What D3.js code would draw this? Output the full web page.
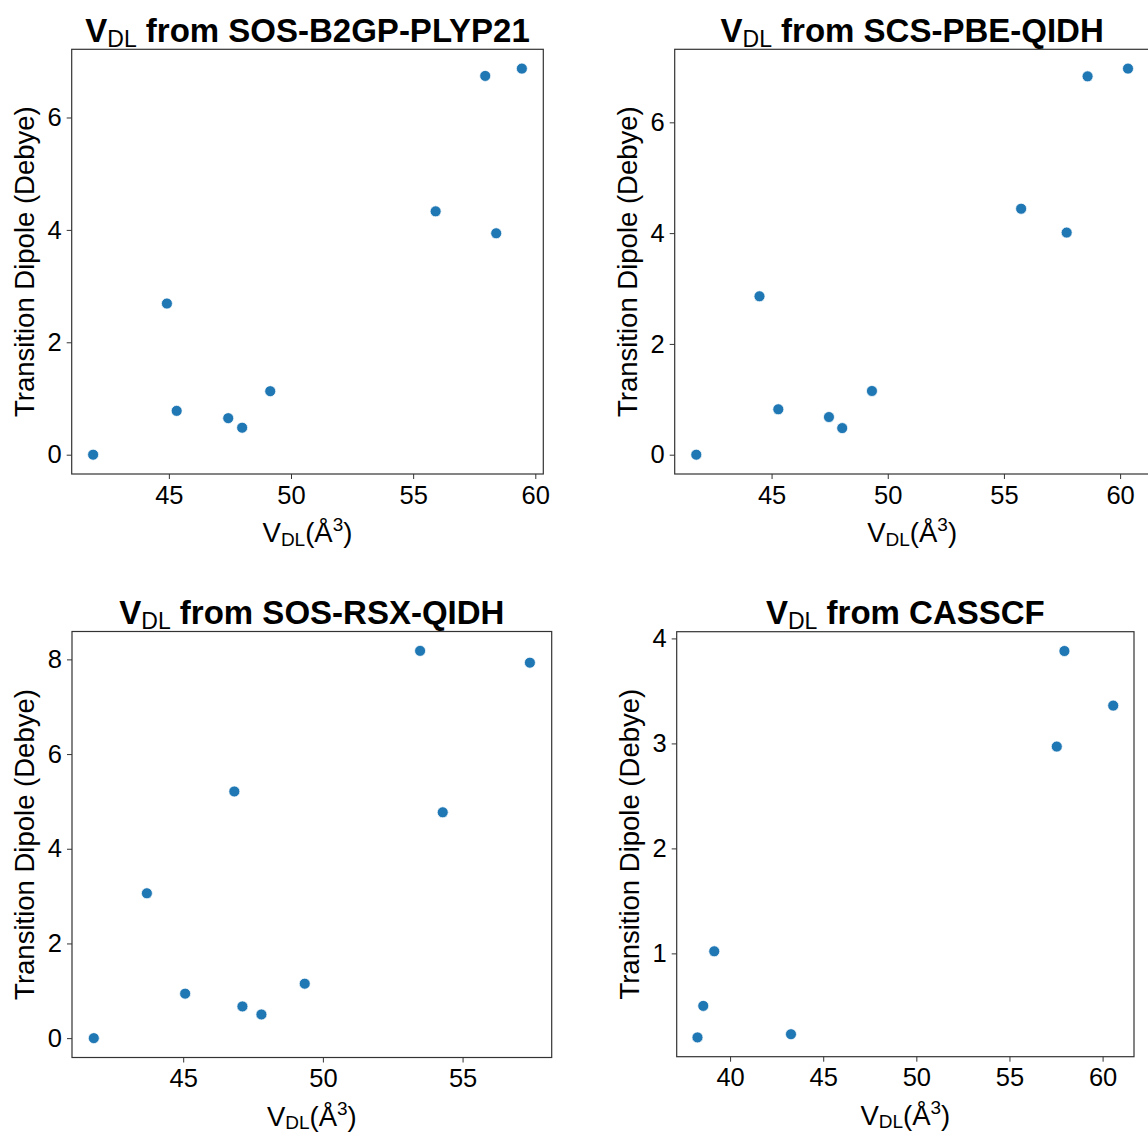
<!DOCTYPE html>
<html>
<head>
<meta charset="utf-8">
<script src="https://cdn.jsdelivr.net/npm/d3@7"></script>
<style>
  body { margin: 0; background: #fff; }
  svg { display: block; font-family: "Liberation Sans", Arial, sans-serif; }
</style>
</head>
<body>
<div id="chart"></div>
<script>
// method used for each panel
var methods = ["SOS-B2GP-PLYP21", "SCS-PBE-QIDH", "SOS-RSX-QIDH", "CASSCF"];

// V_DL (Å^3) vs transition dipole (Debye)
var b2gpVdl    = [41.9, 44.92, 45.32, 47.43, 48.0, 49.15, 55.92, 57.95, 58.4, 59.45];
var b2gpDipole = [0.0, 2.69, 0.78, 0.65, 0.48, 1.13, 4.33, 6.74, 3.94, 6.87];

var pbeVdl    = [41.76, 44.48, 45.29, 47.47, 48.04, 49.32, 55.74, 57.7, 58.6, 60.34];
var pbeDipole = [0.0, 2.86, 0.82, 0.68, 0.48, 1.15, 4.44, 4.01, 6.83, 6.97];

var rsxVdl    = [41.8, 43.7, 45.07, 46.83, 47.12, 47.8, 49.35, 53.48, 54.29, 57.41];
var rsxDipole = [0.0, 3.06, 0.94, 5.21, 0.67, 0.5, 1.15, 8.18, 4.77, 7.93];

var casVdl    = [38.25, 38.56, 39.15, 43.27, 57.54, 57.95, 60.57];
var casDipole = [0.2, 0.5, 1.02, 0.23, 2.97, 3.88, 3.36];

// tick labels
var b2gpXTicks = [45, 50, 55, 60];
var b2gpYTicks = [0, 2, 4, 6];
var pbeXTicks  = [45, 50, 55, 60];
var pbeYTicks  = [0, 2, 4, 6];
var rsxXTicks  = [45, 50, 55];
var rsxYTicks  = [0, 2, 4, 6, 8];
var casXTicks  = [40, 45, 50, 55, 60];
var casYTicks  = [1, 2, 3, 4];

var width = 1148, height = 1133;
var dotColor = "#1f77b4";
var spineColor = "#333";

// frame of each axes in page pixels
var boxes = [
  { left: 71.7, top: 49.3, right: 543.3, bottom: 474 },
  { left: 674.7, top: 49.3, right: 1149.6, bottom: 474 },
  { left: 72, top: 631.5, right: 551.7, bottom: 1057.5 },
  { left: 676.7, top: 631.7, right: 1134, bottom: 1056.7 }
];

var panels = [
  { name: methods[0], x: b2gpVdl, y: b2gpDipole, xt: b2gpXTicks, yt: b2gpYTicks },
  { name: methods[1], x: pbeVdl, y: pbeDipole, xt: pbeXTicks, yt: pbeYTicks },
  { name: methods[2], x: rsxVdl, y: rsxDipole, xt: rsxXTicks, yt: rsxYTicks },
  { name: methods[3], x: casVdl, y: casDipole, xt: casXTicks, yt: casYTicks }
];

const svg = d3.select("#chart")
  .append("svg")
  .attr("width", width)
  .attr("height", height);

svg.append("rect")
  .attr("width", width)
  .attr("height", height)
  .attr("fill", "#fff");

// matplotlib style autoscale: data extent with 5% margins
function padded(vals) {
  var ext = d3.extent(vals);
  var m = (ext[1] - ext[0]) * 0.05;
  return [ext[0] - m, ext[1] + m];
}

panels.forEach(function (p, i) {
  var b = boxes[i];
  var cx = (b.left + b.right) / 2,
      cy = (b.top + b.bottom) / 2;

  var xScale = d3.scaleLinear().domain(padded(p.x)).range([b.left, b.right]);
  var yScale = d3.scaleLinear().domain(padded(p.y)).range([b.bottom, b.top]);

  var g = svg.append("g").attr("class", "panel");

  // axes
  var xAxis = d3.axisBottom(xScale)
    .tickValues(p.xt)
    .tickSize(5)
    .tickPadding(6.5)
    .tickFormat(d3.format("d"));

  var yAxis = d3.axisLeft(yScale)
    .tickValues(p.yt)
    .tickSize(5)
    .tickPadding(5)
    .tickFormat(d3.format("d"));

  var gx = g.append("g")
    .attr("transform", "translate(0," + b.bottom + ")")
    .call(xAxis);

  var gy = g.append("g")
    .attr("transform", "translate(" + b.left + ",0)")
    .call(yAxis);

  [gx, gy].forEach(function (a) {
    a.select(".domain").remove();
    a.selectAll(".tick line").attr("stroke", spineColor).attr("stroke-width", 1);
    a.selectAll(".tick text")
      .attr("fill", "#000")
      .style("font-size", "25.5px")
      .style("font-family", "'Liberation Sans', Arial, sans-serif");
  });

  // frame
  g.append("rect")
    .attr("x", b.left)
    .attr("y", b.top)
    .attr("width", b.right - b.left)
    .attr("height", b.bottom - b.top)
    .attr("fill", "none")
    .attr("stroke", spineColor)
    .attr("stroke-width", 1.2);

  // points
  var pts = p.x.map(function (v, k) { return [v, p.y[k]]; });
  g.selectAll("circle")
    .data(pts)
    .enter()
    .append("circle")
    .attr("cx", function (d) { return xScale(d[0]); })
    .attr("cy", function (d) { return yScale(d[1]); })
    .attr("r", 5.5)
    .attr("fill", dotColor)
    .attr("stroke", "#fff")
    .attr("stroke-width", 0.75);

  // title
  var t = g.append("text")
    .attr("x", cx)
    .attr("y", b.top - 7.5)
    .attr("text-anchor", "middle")
    .attr("fill", "#000")
    .style("font-size", "33px")
    .style("font-weight", "bold");
  t.append("tspan").text("V");
  t.append("tspan").attr("dy", 5).style("font-size", "23px").style("font-weight", "normal").text("DL");
  t.append("tspan").attr("dy", -5).text(" from " + p.name);

  // x label
  var xl = g.append("text")
    .attr("x", cx)
    .attr("y", b.bottom + 68)
    .attr("text-anchor", "middle")
    .attr("fill", "#000")
    .style("font-size", "27.5px");
  xl.append("tspan").text("V");
  xl.append("tspan").attr("dy", 3.5).style("font-size", "19px").text("DL");
  xl.append("tspan").attr("dy", -3.5).text("(Å");
  xl.append("tspan").attr("dy", -11).style("font-size", "19px").text("3");
  xl.append("tspan").attr("dy", 11).text(")");

  // y label
  g.append("text")
    .attr("transform", "translate(" + (b.left - 38) + "," + cy + ") rotate(-90)")
    .attr("text-anchor", "middle")
    .attr("fill", "#000")
    .style("font-size", "27.5px")
    .text("Transition Dipole (Debye)");
});
</script>
</body>
</html>
